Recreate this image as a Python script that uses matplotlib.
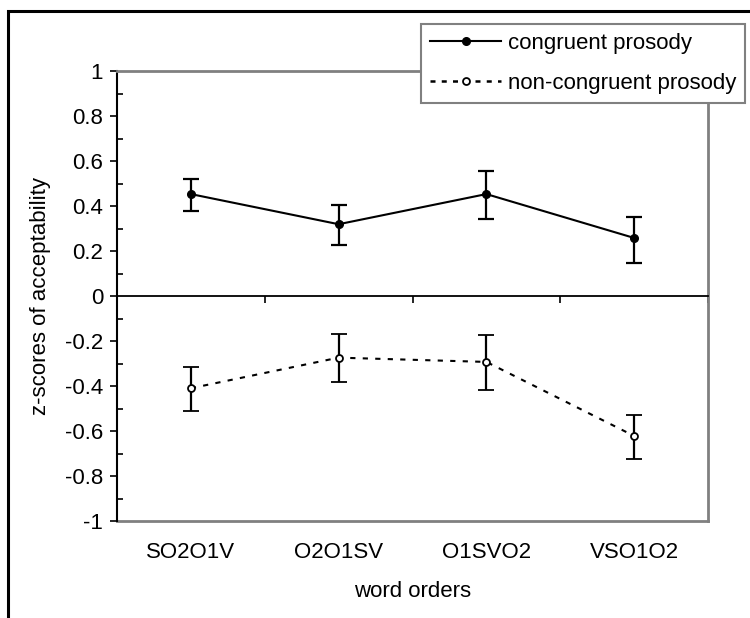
import matplotlib
matplotlib.use("Agg")
import matplotlib.pyplot as plt
from matplotlib.patches import Rectangle
from matplotlib.lines import Line2D
from matplotlib.ticker import MultipleLocator, FuncFormatter

categories = ["SO2O1V", "O2O1SV", "O1SVO2", "VSO1O2"]
congruent = [0.453, 0.319, 0.453, 0.258]
congruent_lo = [0.379, 0.227, 0.342, 0.148]
congruent_hi = [0.519, 0.404, 0.554, 0.352]
noncongruent = [-0.41, -0.274, -0.293, -0.622]
noncongruent_lo = [-0.51, -0.382, -0.419, -0.724]
noncongruent_hi = [-0.314, -0.17, -0.172, -0.529]
series_labels = ["congruent prosody", "non-congruent prosody"]

plt.rcParams['font.family'] = ['Liberation Sans', 'DejaVu Sans']
FS = 16
GRAY = '#808080'
DASH = (0, (2.5, 3.5))

fig = plt.figure(figsize=(7.5, 6.18), dpi=100)
ax = fig.add_axes([117/750, 1-521/618, (708-117)/750, (521-71)/618])

x = list(range(len(categories)))
c_err = [[m - l for m, l in zip(congruent, congruent_lo)],
         [h - m for m, h in zip(congruent, congruent_hi)]]
n_err = [[m - l for m, l in zip(noncongruent, noncongruent_lo)],
         [h - m for m, h in zip(noncongruent, noncongruent_hi)]]

ax.errorbar(x, congruent, yerr=c_err, color='black', lw=1.5, elinewidth=1.6,
            capsize=5.8, capthick=1.6, marker='o', ms=5.5, mfc='black', mec='black',
            zorder=3)
ax.errorbar(x, noncongruent, yerr=n_err, color='black', lw=1.5, ls=DASH,
            elinewidth=1.6, capsize=5.8, capthick=1.6, marker='o', ms=5, mfc='white',
            mec='black', mew=1.3, zorder=3)

ax.set_xlim(-0.5, len(categories) - 0.5)
ax.set_ylim(-1, 1)

# y axis
ax.yaxis.set_major_locator(MultipleLocator(0.2))
ax.yaxis.set_minor_locator(MultipleLocator(0.1))
ax.yaxis.set_major_formatter(FuncFormatter(lambda v, p: "%g" % round(v, 1)))
ax.tick_params(axis='y', which='major', direction='out', length=5, width=1.2, labelsize=FS, pad=5)
ax.tick_params(axis='y', which='minor', direction='in', length=4, width=1.2)
ax.spines['left'].set_color('black')
ax.spines['left'].set_linewidth(1.5)
ax.set_ylabel('z-scores of acceptability', fontsize=FS, labelpad=10)

# zero axis with category boundary ticks
ax.spines['bottom'].set_position(('data', 0))
ax.spines['bottom'].set_color('black')
ax.spines['bottom'].set_linewidth(1.3)
ax.set_xticks([i + 0.5 for i in range(-1, len(categories))])
ax.set_xticklabels([])
ax.tick_params(axis='x', direction='out', length=5, width=1.2)

for s in ['top', 'right']:
    ax.spines[s].set_color(GRAY)
    ax.spines[s].set_linewidth(2)

sec = ax.secondary_xaxis(0.0)
sec.set_xticks(x)
sec.set_xticklabels(categories, fontsize=FS)
sec.tick_params(length=0, pad=15)
sec.spines['bottom'].set_color(GRAY)
sec.spines['bottom'].set_linewidth(2)
sec.set_xlabel('word orders', fontsize=FS, labelpad=13)

handles = [
    Line2D([], [], color='black', lw=1.5, marker='o', ms=5.5, mfc='black', mec='black'),
    Line2D([], [], color='black', lw=1.8, ls=(0, (2, 2.5)), marker='o', ms=5, mfc='white',
           mec='black', mew=1.3),
]
leg = fig.legend(handles, series_labels, loc='upper right',
                 bbox_to_anchor=(745/750, 1-24/618),
                 bbox_transform=fig.transFigure, fontsize=FS, frameon=True,
                 fancybox=False, framealpha=1, edgecolor=GRAY, borderaxespad=0,
                 handlelength=3.2, handletextpad=0.3, labelspacing=0.85,
                 borderpad=0.4)
leg.get_frame().set_linewidth(1.5)

fig.patches.append(Rectangle((8/750, -0.5), 2, 0.5 + 1 - 11/618, transform=fig.transFigure,
                             fill=False, edgecolor='black', lw=2.2, zorder=10))

fig.savefig('out.png', dpi=100)
